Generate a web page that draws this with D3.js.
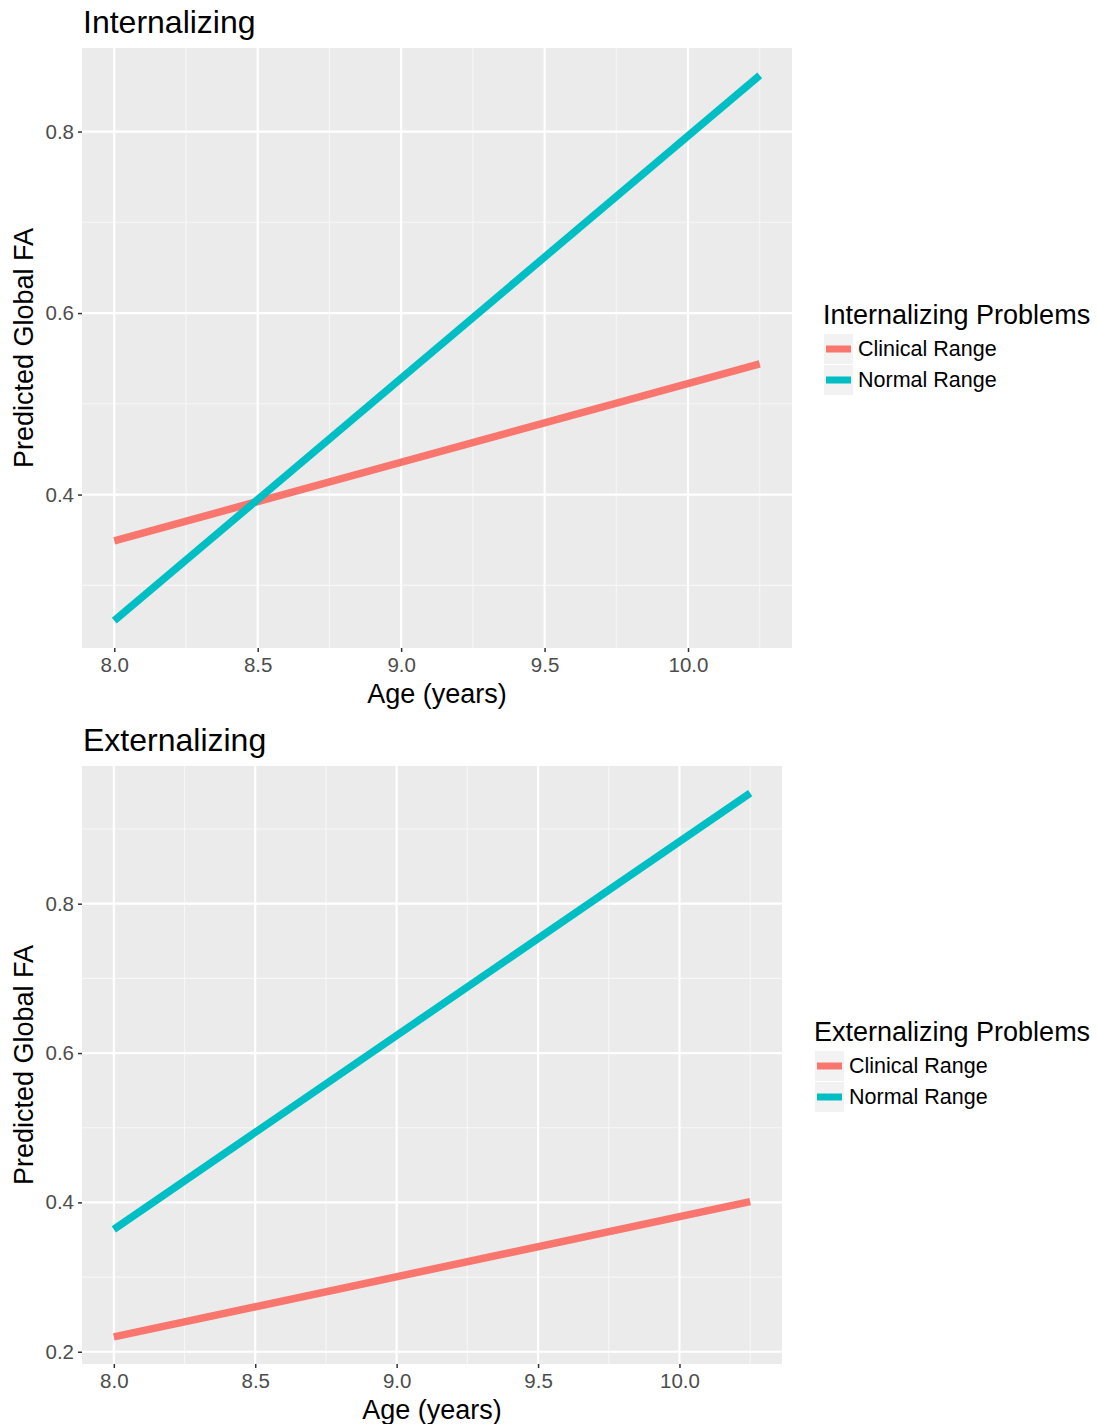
<!DOCTYPE html>
<html><head><meta charset="utf-8">
<script src="https://cdn.jsdelivr.net/npm/d3@7"></script>
<style>body{margin:0;background:#fff}svg{font-family:"Liberation Sans",Arial,Helvetica,sans-serif}</style>
</head><body><svg id="c" width="1097" height="1424"></svg>
<script>
// Data
const ages = [8.0, 10.25];
const intClinical = [0.349, 0.544];
const intNormal = [0.261, 0.862];
const extClinical = [0.220, 0.401];
const extNormal = [0.364, 0.948];
const xTicks = [8.0, 8.5, 9.0, 9.5, 10.0];
const intYTicks = [0.4, 0.6, 0.8];
const extYTicks = [0.2, 0.4, 0.6, 0.8];
const seriesNames = ["Clinical Range", "Normal Range"];
const colors = ["#F8766D", "#00BFC4"];

const svg = d3.select("#c");

function panel(opt) {
  const {title, left, right, top, bottom, clin, norm, yTicks, legendTitle, lx, ly} = opt;
  const all = clin.concat(norm);
  const ymin = d3.min(all), ymax = d3.max(all);
  const yr = ymax - ymin;
  const xr = ages[1] - ages[0];
  const x = d3.scaleLinear().domain([ages[0] - 0.05 * xr, ages[1] + 0.05 * xr]).range([left, right]);
  const y = d3.scaleLinear().domain([ymin - 0.05 * yr, ymax + 0.05 * yr]).range([bottom, top]);
  const g = svg.append("g");
  g.append("rect").attr("x", left).attr("y", top).attr("width", right - left).attr("height", bottom - top).attr("fill", "#EBEBEB");
  // minor grid
  const xMinor = xTicks.map(t => t + 0.25).concat([xTicks[0] - 0.25]).filter(t => t > x.domain()[0] && t < x.domain()[1]);
  const yMinor = [];
  for (let i = 0; i < yTicks.length; i++) { yMinor.push(yTicks[i] - 0.1); yMinor.push(yTicks[i] + 0.1); }
  const yMin2 = [...new Set(yMinor.map(v => +v.toFixed(2)))].filter(v => v > y.domain()[0] && v < y.domain()[1] && !yTicks.includes(v));
  g.selectAll(".xm").data(xMinor).enter().append("line").attr("x1", d => x(d)).attr("x2", d => x(d)).attr("y1", top).attr("y2", bottom).attr("stroke", "#F7F7F7").attr("stroke-width", 1.1);
  g.selectAll(".ym").data(yMin2).enter().append("line").attr("y1", d => y(d)).attr("y2", d => y(d)).attr("x1", left).attr("x2", right).attr("stroke", "#F7F7F7").attr("stroke-width", 1.1);
  g.selectAll(".xM").data(xTicks).enter().append("line").attr("x1", d => x(d)).attr("x2", d => x(d)).attr("y1", top).attr("y2", bottom).attr("stroke", "#fff").attr("stroke-width", 2.2);
  g.selectAll(".yM").data(yTicks).enter().append("line").attr("y1", d => y(d)).attr("y2", d => y(d)).attr("x1", left).attr("x2", right).attr("stroke", "#fff").attr("stroke-width", 2.2);
  // axes
  const xa = g.append("g").attr("transform", `translate(0,${bottom})`).call(d3.axisBottom(x).tickValues(xTicks).tickFormat(d3.format(".1f")).tickSize(4).tickPadding(5));
  const ya = g.append("g").attr("transform", `translate(${left},0)`).call(d3.axisLeft(y).tickValues(yTicks).tickFormat(d3.format(".1f")).tickSize(4).tickPadding(4));
  [xa, ya].forEach(a => {
    a.select(".domain").remove();
    a.selectAll(".tick line").attr("stroke", "#333").attr("stroke-width", 1.5);
    a.selectAll(".tick text").attr("fill", "#4D4D4D").attr("font-size", 20.5).attr("font-family", "Liberation Sans, Arial, sans-serif");
  });
  // lines
  const line = d3.line().x((d, i) => x(ages[i])).y(d => y(d));
  [clin, norm].forEach((s, i) => {
    g.append("path").attr("d", line(s)).attr("fill", "none").attr("stroke", colors[i]).attr("stroke-width", 7.5);
  });
  // titles
  g.append("text").attr("x", left + 1).attr("y", top - 15).attr("font-size", 32).attr("fill", "#000").text(title);
  g.append("text").attr("x", (left + right) / 2).attr("y", bottom + 55).attr("text-anchor", "middle").attr("font-size", 27).attr("fill", "#000").text("Age (years)");
  g.append("text").attr("transform", `translate(33,${(top + bottom) / 2}) rotate(-90)`).attr("text-anchor", "middle").attr("font-size", 27).attr("fill", "#000").text("Predicted Global FA");
  // legend
  g.append("text").attr("x", lx).attr("y", ly).attr("font-size", 27).attr("fill", "#000").text(legendTitle);
  seriesNames.forEach((n, i) => {
    const ky = ly + 10 + i * 31;
    g.append("rect").attr("x", lx + 1).attr("y", ky).attr("width", 29).attr("height", 30).attr("fill", "#F2F2F2");
    g.append("line").attr("x1", lx + 3).attr("x2", lx + 28).attr("y1", ky + 15).attr("y2", ky + 15).attr("stroke", colors[i]).attr("stroke-width", 7);
    g.append("text").attr("x", lx + 35).attr("y", ky + 22).attr("font-size", 21.5).attr("fill", "#000").text(n);
  });
}

panel({title: "Internalizing", left: 82, right: 792, top: 48, bottom: 648, clin: intClinical, norm: intNormal, yTicks: intYTicks, legendTitle: "Internalizing Problems", lx: 823, ly: 324});
panel({title: "Externalizing", left: 82, right: 782, top: 766, bottom: 1364, clin: extClinical, norm: extNormal, yTicks: extYTicks, legendTitle: "Externalizing Problems", lx: 814, ly: 1041});
</script></body></html>
